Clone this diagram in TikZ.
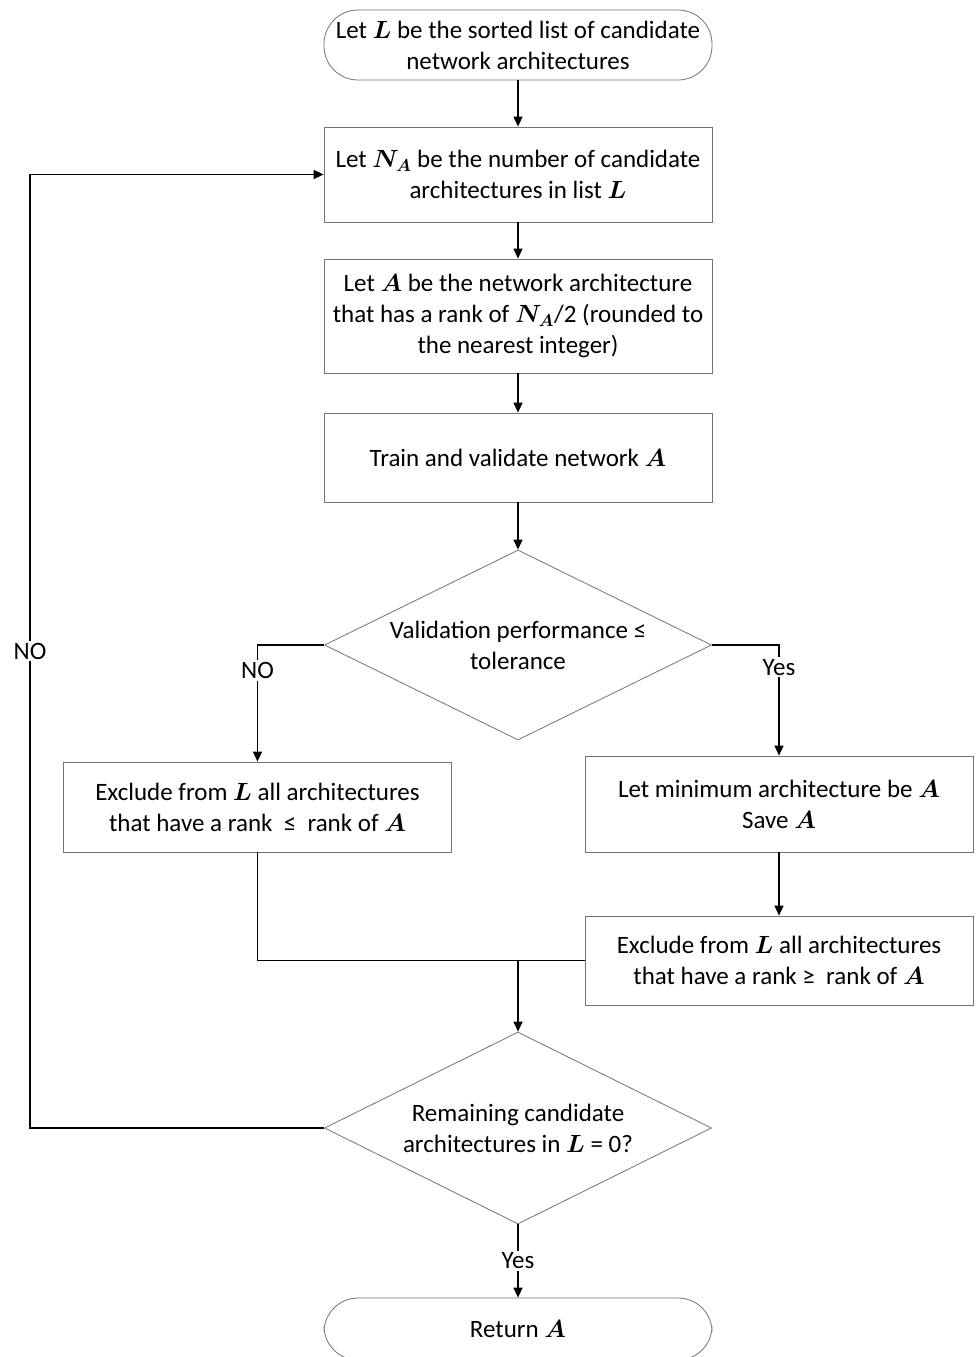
\documentclass[tikz,border=0pt]{standalone}
\usepackage{amsmath, amssymb}
\usepackage{fontspec}
\setmainfont{Carlito}
\usepackage{tikz}
\usetikzlibrary{shapes.geometric, arrows.meta}

\newcommand{\bv}[1]{\ensuremath{\boldsymbol{#1}}}

\tikzset{
  boxnode/.style={draw=black!55, line width=0.8pt, minimum width=388pt, align=center, inner sep=0pt},
  termnode/.style={boxnode, rounded corners=34pt},
  decnode/.style={draw=black!55, line width=0.8pt, shape=diamond, aspect=2.04, minimum width=387pt, minimum height=190pt, align=center, inner sep=0pt},
  lbl/.style={fill=white, inner sep=2pt},
  arr/.style={line width=1.3pt, -{Triangle[length=10pt,width=9pt]}},
  ln/.style={line width=1.3pt}
}

\begin{document}
\begin{tikzpicture}[x=1pt,y=1pt,yscale=-1,xscale=1,font=\fontsize{25}{31}\selectfont]

            \useasboundingbox (0,0) rectangle (975,1357);

            % Main column
            \node [termnode, minimum height=70pt] (start) at (518, 45) {Let \bv{L} be the sorted list of candidate\\network architectures};
            \node [boxnode, minimum height=95pt]  (count) at (518,174.5) {Let \bv{N_A} be the number of candidate\\architectures in list \bv{L}};
            \node [boxnode, minimum height=114pt] (pick)  at (518,316) {Let \bv{A} be the network architecture\\that has a rank of \bv{N_A}/2 (rounded to\\the nearest integer)};
            \node [boxnode, minimum height=89pt]  (train) at (518,457.5) {Train and validate network \bv{A}};
            \node [decnode] (check) at (518,645) {Validation performance ≤\\tolerance};

            % Branches
            \node [boxnode, minimum height=90pt]  (exlow)  at (257.5,807) {Exclude from \bv{L} all architectures\\that have a rank ~≤~ rank of \bv{A}};
            \node [boxnode, minimum height=96pt]  (savemin) at (779,804) {Let minimum architecture be \bv{A}\\Save \bv{A}};
            \node [boxnode, minimum height=89pt]  (exhigh) at (779,960.5) {Exclude from \bv{L} all architectures\\that have a rank ≥~ rank of \bv{A}};

            % Bottom
            \node [decnode, minimum height=192pt] (empty) at (518,1128) {Remaining candidate\\architectures in \bv{L} = 0?};
            \node [termnode, minimum height=62pt] (stop)  at (518,1329) {Return \bv{A}};

            \coordinate (merge) at (518,960.5);
            \coordinate (loop)  at (30,1128);

            % Arrows
            \draw [arr] (start) -- (count);
            \draw [arr] (count) -- (pick);
            \draw [arr] (pick)  -- (train);
            \draw [arr] (train) -- (check);
            \draw [arr] (check.west) -| (exlow.north)   node [lbl, pos=0.61] {NO};
            \draw [arr] (check.east) -| (savemin.north) node [lbl, pos=0.6] {Yes};
            \draw [arr] (savemin) -- (exhigh);
            \draw [ln]  (exlow.south) |- (exhigh.west);
            \draw [arr] (merge) -- (empty.north);
            \draw [arr] (empty.west) -- (loop) |- (count.west) node [lbl, pos=0.25] {NO};
            \draw [arr] (empty.south) -- (stop.north) node [lbl, midway] {Yes};

            \end{tikzpicture}
\end{document}
